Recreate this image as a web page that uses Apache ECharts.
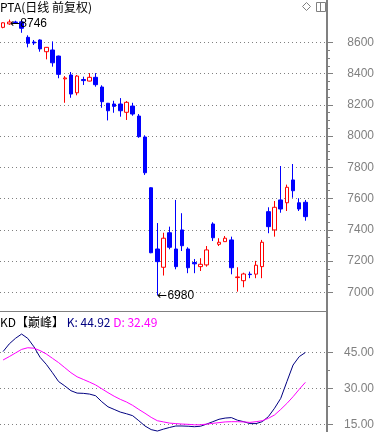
<!DOCTYPE html>
<html><head><meta charset="utf-8">
<script src="https://cdn.jsdelivr.net/npm/echarts@6/dist/echarts.min.js"></script>
<style>html,body{margin:0;padding:0;background:#fff}#c{width:377px;height:432px}</style>
</head><body><div id="c"></div>
<script>
const chartTitle = 'PTA(日线 前复权)';
const kdName = 'KD【巅峰】';
const days = ['1','2','3','4','5','6','7','8','9','10','11','12','13','14','15','16','17','18','19','20',
  '21','22','23','24','25','26','27','28','29','30','31','32','33','34','35','36','37','38','39','40',
  '41','42','43','44','45','46','47','48','49','50'];
const opens  = [8696,8718,8730,8731,8632,8602,8615,8540,8551,8512,8366,8391,8277,8362,8352,8376,8314,8210,8205,8205,
  8152,8192,8128,7994,7669,7277,7160,7381,7277,7399,7277,7190,7164,7175,7437,7307,7324,7335,7094,7074,
  7116,7116,7164,7516,7399,7591,7573,7719,7573,7576];
const closes = [8725,8730,8726,8690,8594,8596,8558,8568,8469,8395,8372,8269,8384,8355,8376,8329,8220,8162,8190,8162,
  8216,8141,7996,7765,7253,7196,7346,7288,7164,7298,7157,7182,7179,7271,7349,7320,7346,7157,7098,7117,
  7113,7173,7320,7420,7544,7533,7672,7650,7533,7484];
const lows   = [8690,8712,8720,8661,8568,8583,8540,8491,8444,8370,8213,8245,8261,8327,8350,8316,8181,8100,8149,8124,
  8103,8130,7989,7751,7250,6980,7107,7275,7147,7264,7122,7122,7136,7164,7328,7296,7324,7115,7004,7032,
  7090,7090,7090,7378,7356,7509,7520,7605,7520,7458];
const highs  = [8728,8746,8738,8740,8645,8615,8619,8570,8606,8515,8384,8410,8391,8380,8403,8403,8325,8212,8226,8243,
  8224,8213,8141,8005,7672,7443,7381,7420,7591,7506,7288,7213,7218,7296,7448,7346,7360,7356,7160,7125,
  7132,7201,7335,7544,7584,7808,7689,7821,7602,7591];
const kValues = [45.3,48.5,50.8,52.6,50.8,47.3,42.9,40.0,36.5,32.8,31.0,29.0,28.0,27.9,27.6,26.9,24.4,22.3,21.2,20.1,
  19.4,18.6,16.5,14.3,12.8,12.2,13.0,13.7,14.3,14.3,14.2,14.0,14.2,15.1,16.1,17.1,17.6,17.8,16.7,16.1,
  15.3,15.3,16.1,18.2,21.7,25.8,32.8,39.7,43.2,44.92];
const dValues = [41.8,43.2,44.7,46.2,46.9,46.7,45.7,44.3,42.5,40.7,38.6,36.5,34.8,33.7,32.6,31.4,29.8,28.2,26.7,25.4,
  24.3,22.9,21.2,19.6,17.9,16.5,16.0,15.5,15.3,15.1,15.0,14.8,14.8,15.1,15.4,15.7,16.0,16.1,16.1,16.0,
  15.8,16.1,16.5,17.5,18.9,21.2,23.7,26.5,29.6,32.49];
const priceTicks = [7000,7200,7400,7600,7800,8000,8200,8400,8600];
const kdTicks = [15,30,45];

// derived helpers
const categories = days.concat(['','','']);
const candleData = opens.map((o,i)=>[o, closes[i], lows[i], highs[i]]);
function minorOf(ticks, parts){
  const out=[];
  for(let i=0;i<ticks.length-1;i++){
    const step=(ticks[i+1]-ticks[i])/parts;
    for(let j=1;j<parts;j++) out.push(ticks[i]+step*j);
  }
  return out;
}
const priceMinor = minorOf(priceTicks,4);
const kdMinor = minorOf(kdTicks,2);
let hiIdx=0, loIdx=0;
highs.forEach((h,i)=>{ if(h>highs[hiIdx]) hiIdx=i; });
lows.forEach((l,i)=>{ if(l<lows[loIdx]) loIdx=i; });

const GRAY='#808080';
const numFont='Liberation Sans, Arial, DejaVu Sans, sans-serif';
const cjkFont='Noto Sans CJK SC, sans-serif';
const arrowRich = {a:{fontFamily:'DejaVu Sans',fontSize:12,color:'#000'}, b:{fontFamily:numFont,fontSize:12,color:'#000'}};

const chart = echarts.init(document.getElementById('c'), null, {renderer:'canvas'});
chart.setOption({
  animation:false,
  backgroundColor:'#ffffff',
  title:[
    {text:chartTitle, left:0, top:0, padding:0,
     textStyle:{fontFamily:cjkFont, fontSize:12, fontWeight:'normal', color:'#000', lineHeight:15}},
    {text:'{n|'+kdName+'} {k|K: '+kValues[kValues.length-1].toFixed(2)+'} {d|D: '+dValues[dValues.length-1].toFixed(2)+'}',
     left:0, top:315, padding:0,
     textStyle:{fontFamily:cjkFont, fontSize:12, fontWeight:'normal', lineHeight:14,
       rich:{n:{color:'#000',fontFamily:cjkFont,fontSize:12},
             k:{color:'#000080',fontFamily:cjkFont,fontSize:12},
             d:{color:'#ff00ff',fontFamily:cjkFont,fontSize:12}}}}
  ],
  graphic:[
    {type:'polygon', shape:{points:[[306.5,2.5],[310.5,6.5],[306.5,10.5],[302.5,6.5]]}, style:{fill:'none',stroke:GRAY,lineWidth:1}},
    {type:'rect', shape:{x:316.5,y:2.5,width:9,height:9}, style:{fill:'none',stroke:GRAY,lineWidth:1}},
    {type:'line', shape:{x1:320.5,y1:2.5,x2:320.5,y2:11.5}, style:{stroke:GRAY,lineWidth:1}}
  ],
  grid:[
    {left:0, right:49, top:0, bottom:121},
    {left:-3, right:49, top:311, bottom:0}
  ],
  xAxis:[
    {type:'category', gridIndex:0, data:categories, boundaryGap:true,
     axisLine:{show:true, lineStyle:{color:GRAY,width:1}}, axisTick:{show:false}, axisLabel:{show:false}, splitLine:{show:false}},
    {type:'category', gridIndex:1, data:categories, boundaryGap:true,
     axisLine:{show:false}, axisTick:{show:false}, axisLabel:{show:false}, splitLine:{show:false}}
  ],
  yAxis:[
    {type:'value', gridIndex:0, position:'right', min:6880, max:8871,
     axisLine:{show:true, onZero:false, lineStyle:{color:GRAY,width:2}},
     axisTick:{show:true, inside:false, length:6, customValues:priceTicks, lineStyle:{color:GRAY}},
     axisLabel:{show:true, customValues:priceTicks, align:'right', margin:47, color:GRAY, fontFamily:numFont, fontSize:12,
       formatter:v=>String(Math.round(v))},
     splitLine:{show:true, lineStyle:{color:GRAY, width:1, type:[1,3]}}},
    {type:'value', gridIndex:0, position:'right', min:6880, max:8871,
     axisLine:{show:false},
     axisTick:{show:true, inside:false, length:3, customValues:priceMinor, lineStyle:{color:GRAY}},
     axisLabel:{show:false}, splitLine:{show:false}},
    {type:'value', gridIndex:1, position:'right', min:11.8, max:62.2,
     axisLine:{show:true, onZero:false, lineStyle:{color:GRAY,width:2}},
     axisTick:{show:true, inside:false, length:6, customValues:kdTicks, lineStyle:{color:GRAY}},
     axisLabel:{show:true, customValues:kdTicks, align:'right', margin:47, color:GRAY, fontFamily:numFont, fontSize:12,
       formatter:v=>Number(v).toFixed(2)},
     splitLine:{show:true, lineStyle:{color:GRAY, width:1, type:[1,3]}}},
    {type:'value', gridIndex:1, position:'right', min:11.8, max:62.2,
     axisLine:{show:false},
     axisTick:{show:true, inside:false, length:3, customValues:kdMinor, lineStyle:{color:GRAY}},
     axisLabel:{show:false}, splitLine:{show:false}}
  ],
  series:[
    {type:'candlestick', xAxisIndex:0, yAxisIndex:0, data:candleData, barWidth:4,
     itemStyle:{color:'#ffffff', color0:'#0000ff', borderColor:'#ff0000', borderColor0:'#0000ff', borderWidth:1},
     markPoint:{symbol:'circle', symbolSize:0, silent:true,
       label:{show:true, position:'right', distance:0, color:'#000', fontFamily:numFont, fontSize:12, rich:arrowRich},
       data:[
         {coord:[hiIdx, highs[hiIdx]], value:highs[hiIdx], label:{formatter:'{a|←}{b|'+highs[hiIdx]+'}', offset:[1,4], rich:arrowRich}},
         {coord:[loIdx, lows[loIdx]], value:lows[loIdx], label:{formatter:'{a|←}{b|'+lows[loIdx]+'}', offset:[0,0], rich:arrowRich}}
       ]}},
    {type:'line', xAxisIndex:1, yAxisIndex:2, data:kValues, symbol:'none', lineStyle:{color:'#000080', width:1}},
    {type:'line', xAxisIndex:1, yAxisIndex:2, data:dValues, symbol:'none', lineStyle:{color:'#ff00ff', width:1}}
  ]
});
</script>
</body></html>
